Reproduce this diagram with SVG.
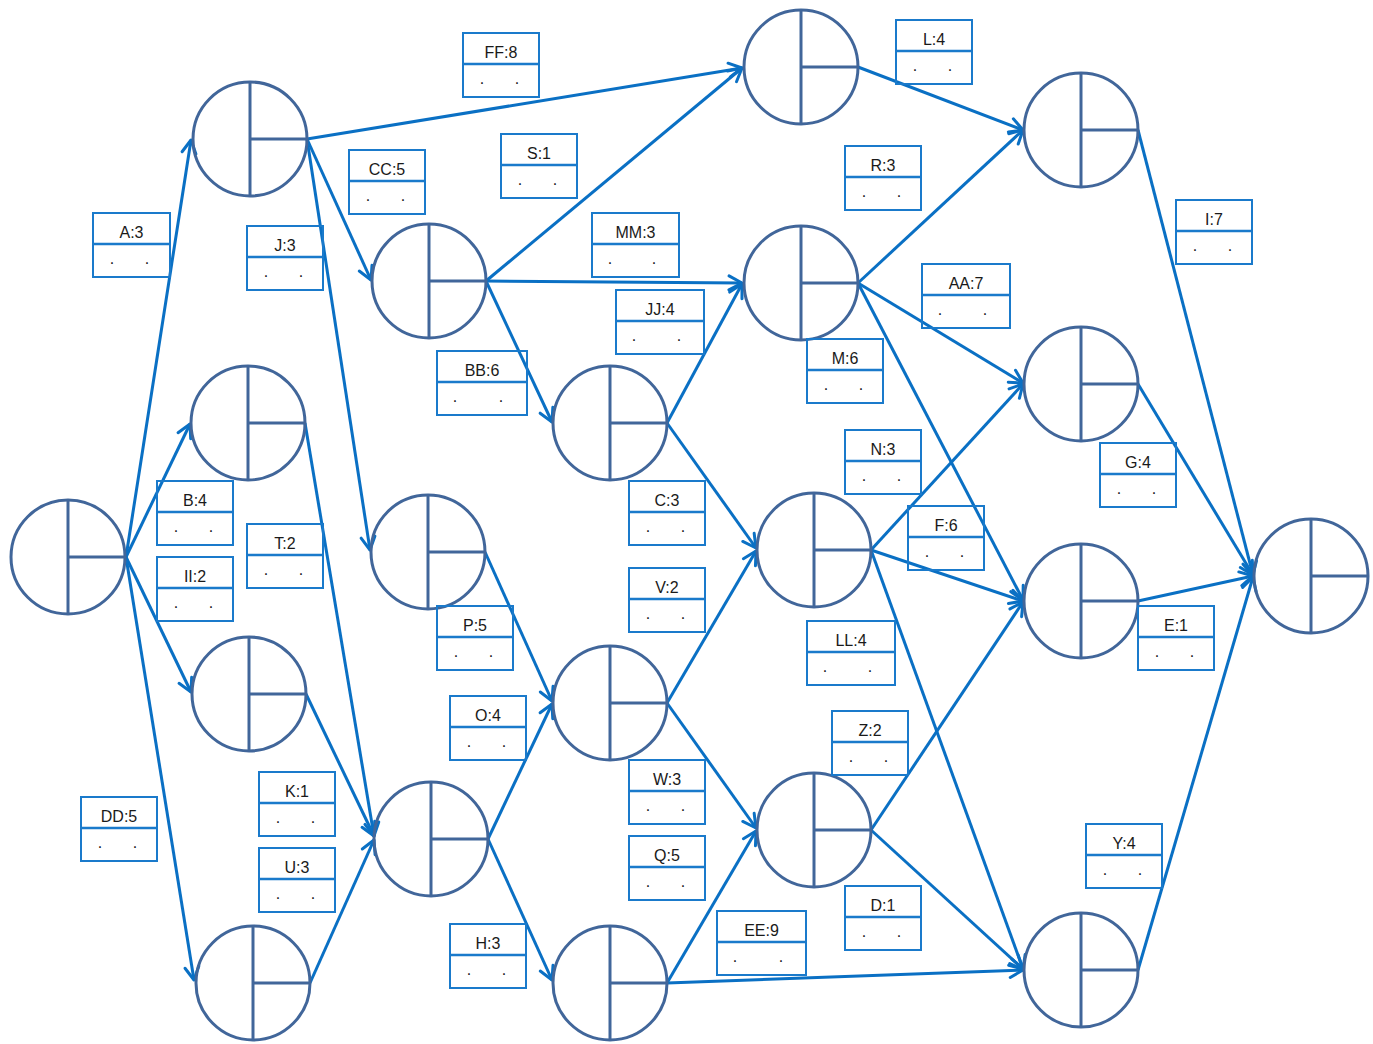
<svg xmlns="http://www.w3.org/2000/svg" width="1373" height="1044" viewBox="0 0 1373 1044">
<style>
.n circle{fill:none;stroke:#41669a;stroke-width:3}
.n line{stroke:#41669a;stroke-width:3}
#edges line{stroke:#0a70c4;stroke-width:3;marker-end:url(#ah)}
.b rect{fill:none;stroke:#1a7acb;stroke-width:2}
.b line{stroke:#1a7acb;stroke-width:2.5}
.b text{font-family:"Liberation Sans",Arial,sans-serif;font-size:16px;fill:#1a1a1a;text-anchor:middle}
</style>
<defs>
<marker id="ah" markerUnits="userSpaceOnUse" viewBox="-16 -10 18 20" refX="0" refY="0" markerWidth="18" markerHeight="20" orient="auto">
<path d="M-13,-7 L0,0 L-13,7" fill="none" stroke="#0a70c4" stroke-width="3" stroke-linecap="round" stroke-linejoin="round"/>
</marker>
</defs>
<rect width="1373" height="1044" fill="#fff"/>
<g id="edges">
<line x1="126" y1="557" x2="191" y2="140"/>
<line x1="126" y1="557" x2="190" y2="424"/>
<line x1="126" y1="557" x2="191" y2="692"/>
<line x1="126" y1="557" x2="194" y2="980"/>
<line x1="307" y1="139" x2="742" y2="68"/>
<line x1="307" y1="139" x2="371" y2="280"/>
<line x1="307" y1="139" x2="370" y2="550"/>
<line x1="305" y1="423" x2="374" y2="836"/>
<line x1="306" y1="694" x2="374" y2="836"/>
<line x1="310" y1="983" x2="374" y2="840"/>
<line x1="486" y1="281" x2="742" y2="68"/>
<line x1="486" y1="281" x2="742" y2="283"/>
<line x1="486" y1="281" x2="552" y2="422"/>
<line x1="485" y1="552" x2="552" y2="701"/>
<line x1="488" y1="839" x2="552" y2="704"/>
<line x1="488" y1="839" x2="552" y2="980"/>
<line x1="667" y1="423" x2="742" y2="284"/>
<line x1="667" y1="423" x2="756" y2="548"/>
<line x1="667" y1="703" x2="756" y2="551"/>
<line x1="667" y1="703" x2="756" y2="828"/>
<line x1="667" y1="983" x2="756" y2="831"/>
<line x1="667" y1="983" x2="1023" y2="970"/>
<line x1="858" y1="67" x2="1023" y2="130"/>
<line x1="858" y1="283" x2="1023" y2="130"/>
<line x1="858" y1="283" x2="1023" y2="383"/>
<line x1="858" y1="283" x2="1023" y2="600"/>
<line x1="871" y1="550" x2="1023" y2="384"/>
<line x1="871" y1="550" x2="1023" y2="601"/>
<line x1="871" y1="550" x2="1023" y2="969"/>
<line x1="871" y1="830" x2="1023" y2="602"/>
<line x1="871" y1="830" x2="1023" y2="969"/>
<line x1="1138" y1="130" x2="1253" y2="575"/>
<line x1="1138" y1="384" x2="1253" y2="575"/>
<line x1="1138" y1="601" x2="1253" y2="576"/>
<line x1="1138" y1="970" x2="1253" y2="577"/>
</g>
<g id="n1" class="n"><circle cx="68" cy="557" r="57"/><line x1="68" y1="500" x2="68" y2="614"/><line x1="68" y1="557" x2="125" y2="557"/></g>
<g id="n2" class="n"><circle cx="250" cy="139" r="57"/><line x1="250" y1="82" x2="250" y2="196"/><line x1="250" y1="139" x2="307" y2="139"/></g>
<g id="n3" class="n"><circle cx="248" cy="423" r="57"/><line x1="248" y1="366" x2="248" y2="480"/><line x1="248" y1="423" x2="305" y2="423"/></g>
<g id="n4" class="n"><circle cx="249" cy="694" r="57"/><line x1="249" y1="637" x2="249" y2="751"/><line x1="249" y1="694" x2="306" y2="694"/></g>
<g id="n5" class="n"><circle cx="253" cy="983" r="57"/><line x1="253" y1="926" x2="253" y2="1040"/><line x1="253" y1="983" x2="310" y2="983"/></g>
<g id="n6" class="n"><circle cx="429" cy="281" r="57"/><line x1="429" y1="224" x2="429" y2="338"/><line x1="429" y1="281" x2="486" y2="281"/></g>
<g id="n7" class="n"><circle cx="428" cy="552" r="57"/><line x1="428" y1="495" x2="428" y2="609"/><line x1="428" y1="552" x2="485" y2="552"/></g>
<g id="n8" class="n"><circle cx="431" cy="839" r="57"/><line x1="431" y1="782" x2="431" y2="896"/><line x1="431" y1="839" x2="488" y2="839"/></g>
<g id="n9" class="n"><circle cx="610" cy="423" r="57"/><line x1="610" y1="366" x2="610" y2="480"/><line x1="610" y1="423" x2="667" y2="423"/></g>
<g id="n10" class="n"><circle cx="610" cy="703" r="57"/><line x1="610" y1="646" x2="610" y2="760"/><line x1="610" y1="703" x2="667" y2="703"/></g>
<g id="n11" class="n"><circle cx="610" cy="983" r="57"/><line x1="610" y1="926" x2="610" y2="1040"/><line x1="610" y1="983" x2="667" y2="983"/></g>
<g id="n12" class="n"><circle cx="801" cy="67" r="57"/><line x1="801" y1="10" x2="801" y2="124"/><line x1="801" y1="67" x2="858" y2="67"/></g>
<g id="n13" class="n"><circle cx="801" cy="283" r="57"/><line x1="801" y1="226" x2="801" y2="340"/><line x1="801" y1="283" x2="858" y2="283"/></g>
<g id="n14" class="n"><circle cx="814" cy="550" r="57"/><line x1="814" y1="493" x2="814" y2="607"/><line x1="814" y1="550" x2="871" y2="550"/></g>
<g id="n15" class="n"><circle cx="814" cy="830" r="57"/><line x1="814" y1="773" x2="814" y2="887"/><line x1="814" y1="830" x2="871" y2="830"/></g>
<g id="n16" class="n"><circle cx="1081" cy="130" r="57"/><line x1="1081" y1="73" x2="1081" y2="187"/><line x1="1081" y1="130" x2="1138" y2="130"/></g>
<g id="n17" class="n"><circle cx="1081" cy="384" r="57"/><line x1="1081" y1="327" x2="1081" y2="441"/><line x1="1081" y1="384" x2="1138" y2="384"/></g>
<g id="n18" class="n"><circle cx="1081" cy="601" r="57"/><line x1="1081" y1="544" x2="1081" y2="658"/><line x1="1081" y1="601" x2="1138" y2="601"/></g>
<g id="n19" class="n"><circle cx="1081" cy="970" r="57"/><line x1="1081" y1="913" x2="1081" y2="1027"/><line x1="1081" y1="970" x2="1138" y2="970"/></g>
<g id="n20" class="n"><circle cx="1311" cy="576" r="57"/><line x1="1311" y1="519" x2="1311" y2="633"/><line x1="1311" y1="576" x2="1368" y2="576"/></g>
<g id="labels">
<g id="l-ff8" class="b" transform="translate(463,33)"><rect width="76" height="64"/><line x1="0" y1="31" x2="76" y2="31"/><text x="38" y="25">FF:8</text><text x="19" y="51">.</text><text x="54" y="51">.</text></g>
<g id="l-a3" class="b" transform="translate(93,213)"><rect width="77" height="64"/><line x1="0" y1="31" x2="77" y2="31"/><text x="38.5" y="25">A:3</text><text x="19" y="51">.</text><text x="54" y="51">.</text></g>
<g id="l-cc5" class="b" transform="translate(349,150)"><rect width="76" height="64"/><line x1="0" y1="31" x2="76" y2="31"/><text x="38" y="25">CC:5</text><text x="19" y="51">.</text><text x="54" y="51">.</text></g>
<g id="l-s1" class="b" transform="translate(501,134)"><rect width="76" height="64"/><line x1="0" y1="31" x2="76" y2="31"/><text x="38" y="25">S:1</text><text x="19" y="51">.</text><text x="54" y="51">.</text></g>
<g id="l-j3" class="b" transform="translate(247,226)"><rect width="76" height="64"/><line x1="0" y1="31" x2="76" y2="31"/><text x="38" y="25">J:3</text><text x="19" y="51">.</text><text x="54" y="51">.</text></g>
<g id="l-mm3" class="b" transform="translate(592,213)"><rect width="87" height="64"/><line x1="0" y1="31" x2="87" y2="31"/><text x="43.5" y="25">MM:3</text><text x="18" y="51">.</text><text x="62" y="51">.</text></g>
<g id="l-l4" class="b" transform="translate(896,20)"><rect width="76" height="64"/><line x1="0" y1="31" x2="76" y2="31"/><text x="38" y="25">L:4</text><text x="19" y="51">.</text><text x="54" y="51">.</text></g>
<g id="l-r3" class="b" transform="translate(845,146)"><rect width="76" height="64"/><line x1="0" y1="31" x2="76" y2="31"/><text x="38" y="25">R:3</text><text x="19" y="51">.</text><text x="54" y="51">.</text></g>
<g id="l-i7" class="b" transform="translate(1176,200)"><rect width="76" height="64"/><line x1="0" y1="31" x2="76" y2="31"/><text x="38" y="25">I:7</text><text x="19" y="51">.</text><text x="54" y="51">.</text></g>
<g id="l-aa7" class="b" transform="translate(922,264)"><rect width="88" height="64"/><line x1="0" y1="31" x2="88" y2="31"/><text x="44" y="25">AA:7</text><text x="18" y="51">.</text><text x="63" y="51">.</text></g>
<g id="l-jj4" class="b" transform="translate(616,290)"><rect width="88" height="64"/><line x1="0" y1="31" x2="88" y2="31"/><text x="44" y="25">JJ:4</text><text x="18" y="51">.</text><text x="63" y="51">.</text></g>
<g id="l-m6" class="b" transform="translate(807,339)"><rect width="76" height="64"/><line x1="0" y1="31" x2="76" y2="31"/><text x="38" y="25">M:6</text><text x="19" y="51">.</text><text x="54" y="51">.</text></g>
<g id="l-bb6" class="b" transform="translate(437,351)"><rect width="90" height="64"/><line x1="0" y1="31" x2="90" y2="31"/><text x="45" y="25">BB:6</text><text x="18" y="51">.</text><text x="64" y="51">.</text></g>
<g id="l-b4" class="b" transform="translate(157,481)"><rect width="76" height="64"/><line x1="0" y1="31" x2="76" y2="31"/><text x="38" y="25">B:4</text><text x="19" y="51">.</text><text x="54" y="51">.</text></g>
<g id="l-n3" class="b" transform="translate(845,430)"><rect width="76" height="64"/><line x1="0" y1="31" x2="76" y2="31"/><text x="38" y="25">N:3</text><text x="19" y="51">.</text><text x="54" y="51">.</text></g>
<g id="l-g4" class="b" transform="translate(1100,443)"><rect width="76" height="64"/><line x1="0" y1="31" x2="76" y2="31"/><text x="38" y="25">G:4</text><text x="19" y="51">.</text><text x="54" y="51">.</text></g>
<g id="l-c3" class="b" transform="translate(629,481)"><rect width="76" height="64"/><line x1="0" y1="31" x2="76" y2="31"/><text x="38" y="25">C:3</text><text x="19" y="51">.</text><text x="54" y="51">.</text></g>
<g id="l-t2" class="b" transform="translate(247,524)"><rect width="76" height="64"/><line x1="0" y1="31" x2="76" y2="31"/><text x="38" y="25">T:2</text><text x="19" y="51">.</text><text x="54" y="51">.</text></g>
<g id="l-f6" class="b" transform="translate(908,506)"><rect width="76" height="64"/><line x1="0" y1="31" x2="76" y2="31"/><text x="38" y="25">F:6</text><text x="19" y="51">.</text><text x="54" y="51">.</text></g>
<g id="l-ii2" class="b" transform="translate(157,557)"><rect width="76" height="64"/><line x1="0" y1="31" x2="76" y2="31"/><text x="38" y="25">II:2</text><text x="19" y="51">.</text><text x="54" y="51">.</text></g>
<g id="l-v2" class="b" transform="translate(629,568)"><rect width="76" height="64"/><line x1="0" y1="31" x2="76" y2="31"/><text x="38" y="25">V:2</text><text x="19" y="51">.</text><text x="54" y="51">.</text></g>
<g id="l-p5" class="b" transform="translate(437,606)"><rect width="76" height="64"/><line x1="0" y1="31" x2="76" y2="31"/><text x="38" y="25">P:5</text><text x="19" y="51">.</text><text x="54" y="51">.</text></g>
<g id="l-e1" class="b" transform="translate(1138,606)"><rect width="76" height="64"/><line x1="0" y1="31" x2="76" y2="31"/><text x="38" y="25">E:1</text><text x="19" y="51">.</text><text x="54" y="51">.</text></g>
<g id="l-ll4" class="b" transform="translate(807,621)"><rect width="88" height="64"/><line x1="0" y1="31" x2="88" y2="31"/><text x="44" y="25">LL:4</text><text x="18" y="51">.</text><text x="63" y="51">.</text></g>
<g id="l-o4" class="b" transform="translate(450,696)"><rect width="76" height="64"/><line x1="0" y1="31" x2="76" y2="31"/><text x="38" y="25">O:4</text><text x="19" y="51">.</text><text x="54" y="51">.</text></g>
<g id="l-z2" class="b" transform="translate(832,711)"><rect width="76" height="64"/><line x1="0" y1="31" x2="76" y2="31"/><text x="38" y="25">Z:2</text><text x="19" y="51">.</text><text x="54" y="51">.</text></g>
<g id="l-w3" class="b" transform="translate(629,760)"><rect width="76" height="64"/><line x1="0" y1="31" x2="76" y2="31"/><text x="38" y="25">W:3</text><text x="19" y="51">.</text><text x="54" y="51">.</text></g>
<g id="l-k1" class="b" transform="translate(259,772)"><rect width="76" height="64"/><line x1="0" y1="31" x2="76" y2="31"/><text x="38" y="25">K:1</text><text x="19" y="51">.</text><text x="54" y="51">.</text></g>
<g id="l-dd5" class="b" transform="translate(81,797)"><rect width="76" height="64"/><line x1="0" y1="31" x2="76" y2="31"/><text x="38" y="25">DD:5</text><text x="19" y="51">.</text><text x="54" y="51">.</text></g>
<g id="l-y4" class="b" transform="translate(1086,824)"><rect width="76" height="64"/><line x1="0" y1="31" x2="76" y2="31"/><text x="38" y="25">Y:4</text><text x="19" y="51">.</text><text x="54" y="51">.</text></g>
<g id="l-q5" class="b" transform="translate(629,836)"><rect width="76" height="64"/><line x1="0" y1="31" x2="76" y2="31"/><text x="38" y="25">Q:5</text><text x="19" y="51">.</text><text x="54" y="51">.</text></g>
<g id="l-u3" class="b" transform="translate(259,848)"><rect width="76" height="64"/><line x1="0" y1="31" x2="76" y2="31"/><text x="38" y="25">U:3</text><text x="19" y="51">.</text><text x="54" y="51">.</text></g>
<g id="l-d1" class="b" transform="translate(845,886)"><rect width="76" height="64"/><line x1="0" y1="31" x2="76" y2="31"/><text x="38" y="25">D:1</text><text x="19" y="51">.</text><text x="54" y="51">.</text></g>
<g id="l-h3" class="b" transform="translate(450,924)"><rect width="76" height="64"/><line x1="0" y1="31" x2="76" y2="31"/><text x="38" y="25">H:3</text><text x="19" y="51">.</text><text x="54" y="51">.</text></g>
<g id="l-ee9" class="b" transform="translate(717,911)"><rect width="89" height="64"/><line x1="0" y1="31" x2="89" y2="31"/><text x="44.5" y="25">EE:9</text><text x="18" y="51">.</text><text x="64" y="51">.</text></g>
</g>
</svg>
